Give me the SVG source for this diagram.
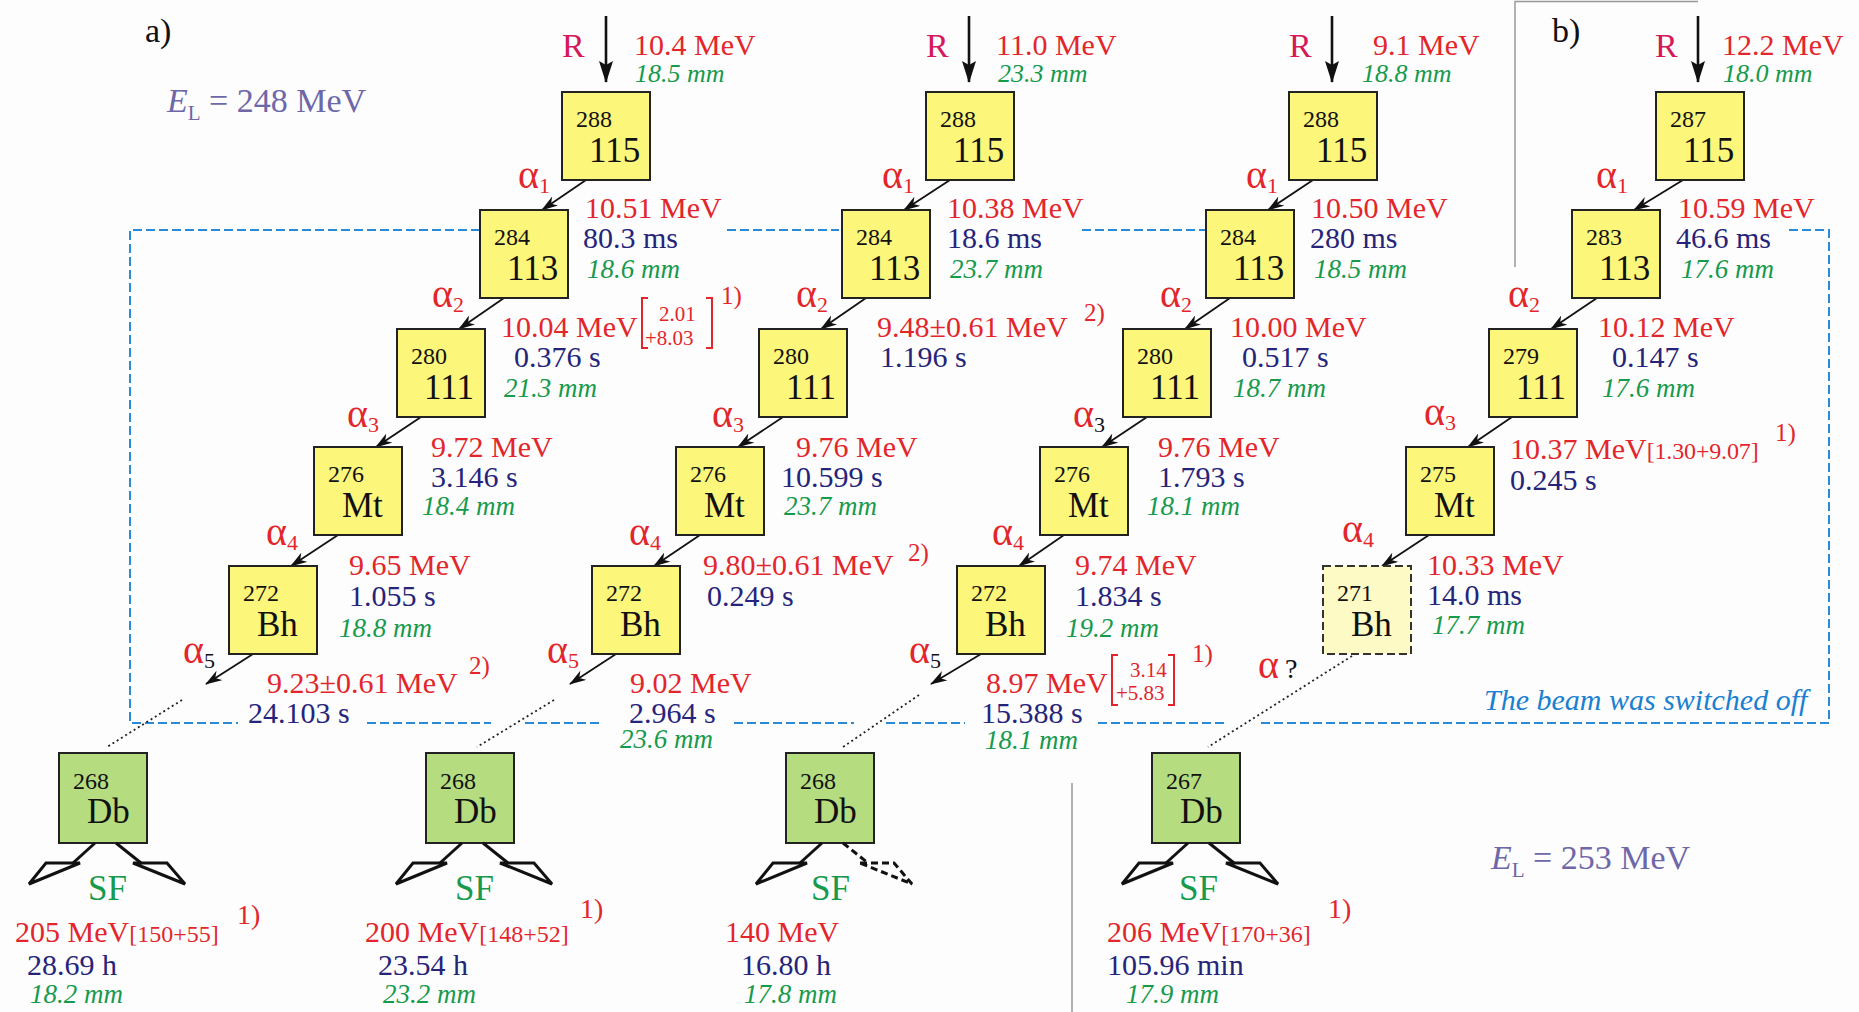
<svg xmlns="http://www.w3.org/2000/svg" width="1859" height="1012" viewBox="0 0 1859 1012">
<defs>
<style>
text{font-family:"Liberation Serif","Times New Roman",serif}
.box{fill:#fcf67a;stroke:#222;stroke-width:2}
.boxd{fill:#fdfac6;stroke:#333;stroke-width:2;stroke-dasharray:8,4}
.boxg{fill:#b6dc80;stroke:#222;stroke-width:2}
.iso{font-size:24px;fill:#111}
.sym{font-size:35px;fill:#111}
.red{font-size:30px;fill:#e3262b}
.navy{font-size:30px;fill:#26247a}
.mm{font-size:27px;fill:#169a4c;font-style:italic}
.mmt{font-size:26px;fill:#169a4c;font-style:italic}
.al{font-size:40px;fill:#e3262b}
.sub{font-size:22px}
.R{font-size:34px;fill:#d4185a}
.sf{font-size:35px;fill:#169a4c}
.sup{font-size:25px;fill:#e3262b}
.supb{font-size:28px;fill:#e3262b}
.brs{font-size:24px}
.brn{font-size:21px;fill:#e3262b}
.lab{font-size:34px;fill:#111}
.el{font-size:34px;fill:#6e67a8}
.beam{font-size:30px;fill:#1a80d0;font-style:italic}
.arr{stroke:#111;stroke-width:1.8;fill:none;marker-end:url(#ah)}
.rarr{stroke:#111;stroke-width:2.6;fill:none;marker-end:url(#rh)}
.dot{stroke:#222;stroke-width:1.8;stroke-dasharray:2,3;fill:none}
.blue{stroke:#2b8ad6;stroke-width:2;stroke-dasharray:9,4;fill:none}
.gray{stroke:#999;stroke-width:1.5;fill:none}
.frag{stroke:#111;stroke-width:3;fill:none;stroke-linejoin:miter}
.fragd{stroke:#111;stroke-width:3;fill:none;stroke-dasharray:7,4}
.brk{stroke:#e3262b;stroke-width:2;fill:none}
</style>
<marker id="ah" markerUnits="userSpaceOnUse" markerWidth="17" markerHeight="11" viewBox="0 0 17 11" refX="16" refY="5.5" orient="auto"><path d="M0,0 L17,5.5 L0,11 L5,5.5 z" fill="#111"/></marker>
<marker id="rh" markerUnits="userSpaceOnUse" markerWidth="22" markerHeight="14" viewBox="0 0 22 14" refX="21" refY="7" orient="auto"><path d="M0,0 L22,7 L0,14 L4,7 z" fill="#111"/></marker>
<g id="sfl"><path class="frag" d="M36,0 L14,20"/><path class="frag" d="M-13,20 L21,20 L-30,41 Z"/></g>
<g id="sfr"><path class="frag" d="M57,0 L82,20"/><path class="frag" d="M74,20 L108,20 L126,41 Z"/></g>
<g id="sfrd"><path class="fragd" d="M57,0 L82,20"/><path class="fragd" d="M74,20 L108,20 L126,41 Z"/></g>
</defs>
<rect width="1859" height="1012" fill="#fdfdfd"/>

<g id="connectors">
<path class="gray" d="M1515,267 V1.5 H1698"/>
<path class="gray" d="M1072,783 V1012"/>
<path class="blue" d="M480,230 H130 V723 H238"/>
<path class="blue" d="M727,230 H839"/>
<path class="blue" d="M1082,230 H1205"/>
<path class="blue" d="M1789,230 H1829 V723 H1260"/>
<path class="blue" d="M367,723 H491 M525,723 H603 M734,723 H854 M886,723 H965 M1098,723 H1225"/>
<line class="rarr" x1="606" y1="16" x2="606" y2="82"/>
<line class="rarr" x1="969" y1="16" x2="969" y2="82"/>
<line class="rarr" x1="1332" y1="16" x2="1332" y2="82"/>
<line class="rarr" x1="1698" y1="16" x2="1698" y2="82"/>
<line class="arr" x1="586" y1="180" x2="542" y2="210"/>
<line class="arr" x1="504" y1="298" x2="459" y2="329"/>
<line class="arr" x1="421" y1="417" x2="376" y2="447"/>
<line class="arr" x1="338" y1="535" x2="291" y2="566"/>
<line class="arr" x1="253" y1="654" x2="206" y2="684"/>
<line class="arr" x1="950" y1="180" x2="904" y2="210"/>
<line class="arr" x1="866" y1="298" x2="821" y2="329"/>
<line class="arr" x1="783" y1="417" x2="738" y2="447"/>
<line class="arr" x1="700" y1="535" x2="654" y2="566"/>
<line class="arr" x1="616" y1="654" x2="570" y2="684"/>
<line class="arr" x1="1313" y1="180" x2="1268" y2="210"/>
<line class="arr" x1="1230" y1="298" x2="1185" y2="329"/>
<line class="arr" x1="1147" y1="417" x2="1102" y2="447"/>
<line class="arr" x1="1064" y1="535" x2="1019" y2="566"/>
<line class="arr" x1="981" y1="654" x2="931" y2="684"/>
<line class="arr" x1="1683" y1="180" x2="1634" y2="210"/>
<line class="arr" x1="1597" y1="298" x2="1551" y2="329"/>
<line class="arr" x1="1512" y1="417" x2="1468" y2="447"/>
<line class="arr" x1="1429" y1="535" x2="1382" y2="566"/>
<line class="dot" x1="182" y1="700" x2="107" y2="747"/>
<line class="dot" x1="554" y1="700" x2="477" y2="747"/>
<line class="dot" x1="919" y1="695" x2="843" y2="747"/>
<line class="dot" x1="1352" y1="656" x2="1208" y2="747"/>
</g>

<g id="labels">
<text class="lab" x="145" y="42">a)</text>
<text class="lab" x="1552" y="42">b)</text>
<text class="el" x="167" y="112"><tspan font-style="italic">E</tspan><tspan font-size="21" dy="8">L</tspan><tspan dy="-8"> = 248 MeV</tspan></text>
<text class="el" x="1491" y="869"><tspan font-style="italic">E</tspan><tspan font-size="21" dy="8">L</tspan><tspan dy="-8"> = 253 MeV</tspan></text>
<text class="beam" x="1484" y="710">The beam was switched off</text>
</g>

<!-- Chain a1 -->
<g id="n1_288_115">
<text class="R" x="562" y="57">R</text>
<text class="red" x="634" y="55">10.4 MeV</text>
<text class="mmt" x="635" y="82">18.5 mm</text>
<rect class="box" x="562" y="92" width="88" height="88"/>
<text class="iso" x="576" y="127">288</text><text class="sym" x="589" y="162">115</text>
</g>
<g id="n1_284_113">
<text class="al" x="518" y="188">α<tspan class="sub" dy="5">1</tspan></text>
<text class="red" x="585" y="218">10.51 MeV</text>
<text class="navy" x="583" y="248">80.3 ms</text>
<text class="mm" x="587" y="278">18.6 mm</text>
<rect class="box" x="480" y="210" width="88" height="88"/>
<text class="iso" x="494" y="245">284</text><text class="sym" x="507" y="280">113</text>
</g>
<g id="n1_280_111">
<text class="al" x="432" y="307">α<tspan class="sub" dy="5">2</tspan></text>
<text class="red" x="501" y="337">10.04 MeV</text>
<path class="brk" d="M648,298 H642 V348 H648 M706,298 H712 V348 H706"/>
<text class="brn" x="659" y="321">2.01</text><text class="brn" x="645" y="345">+8.03</text>
<text class="sup" x="721" y="304">1)</text>
<text class="navy" x="514" y="367">0.376 s</text>
<text class="mm" x="504" y="397">21.3 mm</text>
<rect class="box" x="397" y="329" width="88" height="88"/>
<text class="iso" x="411" y="364">280</text><text class="sym" x="424" y="399">111</text>
</g>
<g id="n1_276_Mt">
<text class="al" x="347" y="427">α<tspan class="sub" dy="5">3</tspan></text>
<text class="red" x="431" y="457">9.72 MeV</text>
<text class="navy" x="431" y="487">3.146 s</text>
<text class="mm" x="422" y="515">18.4 mm</text>
<rect class="box" x="314" y="447" width="88" height="88"/>
<text class="iso" x="328" y="482">276</text><text class="sym" x="342" y="517">Mt</text>
</g>
<g id="n1_272_Bh">
<text class="al" x="266" y="545">α<tspan class="sub" dy="5">4</tspan></text>
<text class="red" x="349" y="575">9.65 MeV</text>
<text class="navy" x="349" y="606">1.055 s</text>
<text class="mm" x="339" y="637">18.8 mm</text>
<rect class="box" x="229" y="566" width="88" height="88"/>
<text class="iso" x="243" y="601">272</text><text class="sym" x="257" y="636">Bh</text>
<text class="al" x="183" y="663">α<tspan class="sub" dy="5" fill="#111">5</tspan></text>
<text class="red" x="267" y="693">9.23±0.61 MeV</text>
<text class="sup" x="469" y="674">2)</text>
<text class="navy" x="248" y="723">24.103 s</text>
</g>
<g id="n1_268_Db">
<rect class="boxg" x="59" y="753" width="88" height="90"/>
<text class="iso" x="73" y="789">268</text><text class="sym" x="87" y="823">Db</text>
<use href="#sfl" x="59" y="843"/><use href="#sfr" x="59" y="843"/>
<text class="sf" x="88" y="900">SF</text>
<text class="red" x="15" y="942">205 MeV<tspan class="brs">[150+55]</tspan></text>
<text class="supb" x="237" y="924">1)</text>
<text class="navy" x="27" y="975">28.69 h</text>
<text class="mm" x="30" y="1003">18.2 mm</text>
</g>

<!-- Chain a2 -->
<g id="n2_288_115">
<text class="R" x="926" y="57">R</text>
<text class="red" x="996" y="55">11.0 MeV</text>
<text class="mmt" x="998" y="82">23.3 mm</text>
<rect class="box" x="926" y="92" width="88" height="88"/>
<text class="iso" x="940" y="127">288</text><text class="sym" x="953" y="162">115</text>
</g>
<g id="n2_284_113">
<text class="al" x="882" y="188">α<tspan class="sub" dy="5">1</tspan></text>
<text class="red" x="947" y="218">10.38 MeV</text>
<text class="navy" x="947" y="248">18.6 ms</text>
<text class="mm" x="950" y="278">23.7 mm</text>
<rect class="box" x="842" y="210" width="88" height="88"/>
<text class="iso" x="856" y="245">284</text><text class="sym" x="869" y="280">113</text>
</g>
<g id="n2_280_111">
<text class="al" x="796" y="307">α<tspan class="sub" dy="5">2</tspan></text>
<text class="red" x="877" y="337">9.48±0.61 MeV</text>
<text class="sup" x="1084" y="321">2)</text>
<text class="navy" x="880" y="367">1.196 s</text>
<rect class="box" x="759" y="329" width="88" height="88"/>
<text class="iso" x="773" y="364">280</text><text class="sym" x="786" y="399">111</text>
</g>
<g id="n2_276_Mt">
<text class="al" x="712" y="427">α<tspan class="sub" dy="5">3</tspan></text>
<text class="red" x="796" y="457">9.76 MeV</text>
<text class="navy" x="781" y="487">10.599 s</text>
<text class="mm" x="784" y="515">23.7 mm</text>
<rect class="box" x="676" y="447" width="88" height="88"/>
<text class="iso" x="690" y="482">276</text><text class="sym" x="704" y="517">Mt</text>
</g>
<g id="n2_272_Bh">
<text class="al" x="629" y="545">α<tspan class="sub" dy="5">4</tspan></text>
<text class="red" x="703" y="575">9.80±0.61 MeV</text>
<text class="sup" x="908" y="561">2)</text>
<text class="navy" x="707" y="606">0.249 s</text>
<rect class="box" x="592" y="566" width="88" height="88"/>
<text class="iso" x="606" y="601">272</text><text class="sym" x="620" y="636">Bh</text>
<text class="al" x="547" y="663">α<tspan class="sub" dy="5">5</tspan></text>
<text class="red" x="630" y="693">9.02 MeV</text>
<text class="navy" x="629" y="723">2.964 s</text>
<text class="mm" x="620" y="748">23.6 mm</text>
</g>
<g id="n2_268_Db">
<rect class="boxg" x="426" y="753" width="88" height="90"/>
<text class="iso" x="440" y="789">268</text><text class="sym" x="454" y="823">Db</text>
<use href="#sfl" x="426" y="843"/><use href="#sfr" x="426" y="843"/>
<text class="sf" x="455" y="900">SF</text>
<text class="red" x="365" y="942">200 MeV<tspan class="brs">[148+52]</tspan></text>
<text class="supb" x="580" y="918">1)</text>
<text class="navy" x="378" y="975">23.54 h</text>
<text class="mm" x="383" y="1003">23.2 mm</text>
</g>

<!-- Chain a3 -->
<g id="n3_288_115">
<text class="R" x="1289" y="57">R</text>
<text class="red" x="1373" y="55">9.1 MeV</text>
<text class="mmt" x="1362" y="82">18.8 mm</text>
<rect class="box" x="1289" y="92" width="88" height="88"/>
<text class="iso" x="1303" y="127">288</text><text class="sym" x="1316" y="162">115</text>
</g>
<g id="n3_284_113">
<text class="al" x="1246" y="188">α<tspan class="sub" dy="5">1</tspan></text>
<text class="red" x="1311" y="218">10.50 MeV</text>
<text class="navy" x="1310" y="248">280 ms</text>
<text class="mm" x="1314" y="278">18.5 mm</text>
<rect class="box" x="1206" y="210" width="88" height="88"/>
<text class="iso" x="1220" y="245">284</text><text class="sym" x="1233" y="280">113</text>
</g>
<g id="n3_280_111">
<text class="al" x="1160" y="307">α<tspan class="sub" dy="5">2</tspan></text>
<text class="red" x="1230" y="337">10.00 MeV</text>
<text class="navy" x="1242" y="367">0.517 s</text>
<text class="mm" x="1233" y="397">18.7 mm</text>
<rect class="box" x="1123" y="329" width="88" height="88"/>
<text class="iso" x="1137" y="364">280</text><text class="sym" x="1150" y="399">111</text>
</g>
<g id="n3_276_Mt">
<text class="al" x="1073" y="427">α<tspan class="sub" dy="5" fill="#111">3</tspan></text>
<text class="red" x="1158" y="457">9.76 MeV</text>
<text class="navy" x="1158" y="487">1.793 s</text>
<text class="mm" x="1147" y="515">18.1 mm</text>
<rect class="box" x="1040" y="447" width="88" height="88"/>
<text class="iso" x="1054" y="482">276</text><text class="sym" x="1068" y="517">Mt</text>
</g>
<g id="n3_272_Bh">
<text class="al" x="992" y="545">α<tspan class="sub" dy="5">4</tspan></text>
<text class="red" x="1075" y="575">9.74 MeV</text>
<text class="navy" x="1075" y="606">1.834 s</text>
<text class="mm" x="1066" y="637">19.2 mm</text>
<rect class="box" x="957" y="566" width="88" height="88"/>
<text class="iso" x="971" y="601">272</text><text class="sym" x="985" y="636">Bh</text>
<text class="al" x="909" y="663">α<tspan class="sub" dy="5" fill="#111">5</tspan></text>
<text class="red" x="986" y="693">8.97 MeV</text>
<path class="brk" d="M1118,655 H1112 V705 H1118 M1168,655 H1174 V705 H1168"/>
<text class="brn" x="1130" y="677">3.14</text><text class="brn" x="1116" y="700">+5.83</text>
<text class="sup" x="1192" y="662">1)</text>
<text class="navy" x="981" y="723">15.388 s</text>
<text class="mm" x="985" y="749">18.1 mm</text>
</g>
<g id="n3_268_Db">
<rect class="boxg" x="786" y="753" width="88" height="90"/>
<text class="iso" x="800" y="789">268</text><text class="sym" x="814" y="823">Db</text>
<use href="#sfl" x="786" y="843"/><use href="#sfrd" x="786" y="843"/>
<text class="sf" x="811" y="900">SF</text>
<text class="red" x="725" y="942">140 MeV</text>
<text class="navy" x="741" y="975">16.80 h</text>
<text class="mm" x="744" y="1003">17.8 mm</text>
</g>

<!-- Chain b -->
<g id="n4_287_115">
<text class="R" x="1655" y="57">R</text>
<text class="red" x="1722" y="55">12.2 MeV</text>
<text class="mmt" x="1723" y="82">18.0 mm</text>
<rect class="box" x="1656" y="92" width="88" height="88"/>
<text class="iso" x="1670" y="127">287</text><text class="sym" x="1683" y="162">115</text>
</g>
<g id="n4_283_113">
<text class="al" x="1596" y="188">α<tspan class="sub" dy="5">1</tspan></text>
<text class="red" x="1678" y="218">10.59 MeV</text>
<text class="navy" x="1676" y="248">46.6 ms</text>
<text class="mm" x="1681" y="278">17.6 mm</text>
<rect class="box" x="1572" y="210" width="88" height="88"/>
<text class="iso" x="1586" y="245">283</text><text class="sym" x="1599" y="280">113</text>
</g>
<g id="n4_279_111">
<text class="al" x="1508" y="307">α<tspan class="sub" dy="5">2</tspan></text>
<text class="red" x="1598" y="337">10.12 MeV</text>
<text class="navy" x="1612" y="367">0.147 s</text>
<text class="mm" x="1602" y="397">17.6 mm</text>
<rect class="box" x="1489" y="329" width="88" height="88"/>
<text class="iso" x="1503" y="364">279</text><text class="sym" x="1516" y="399">111</text>
</g>
<g id="n4_275_Mt">
<text class="al" x="1424" y="425">α<tspan class="sub" dy="5">3</tspan></text>
<text class="red" x="1510" y="459">10.37 MeV<tspan class="brs" textLength="112">[1.30+9.07]</tspan></text>
<text class="sup" x="1775" y="441">1)</text>
<text class="navy" x="1510" y="490">0.245 s</text>
<rect class="box" x="1406" y="447" width="88" height="88"/>
<text class="iso" x="1420" y="482">275</text><text class="sym" x="1434" y="517">Mt</text>
</g>
<g id="n4_271_Bh">
<text class="al" x="1342" y="542">α<tspan class="sub" dy="5">4</tspan></text>
<text class="red" x="1427" y="575">10.33 MeV</text>
<text class="navy" x="1427" y="605">14.0 ms</text>
<text class="mm" x="1432" y="634">17.7 mm</text>
<rect class="boxd" x="1323" y="566" width="88" height="88"/>
<text class="iso" x="1337" y="601">271</text><text class="sym" x="1351" y="636">Bh</text>
<text class="al" x="1258" y="678">α<tspan fill="#111" font-size="28" dx="6">?</tspan></text>
</g>
<g id="n4_267_Db">
<rect class="boxg" x="1152" y="753" width="88" height="90"/>
<text class="iso" x="1166" y="789">267</text><text class="sym" x="1180" y="823">Db</text>
<use href="#sfl" x="1152" y="843"/><use href="#sfr" x="1152" y="843"/>
<text class="sf" x="1179" y="900">SF</text>
<text class="red" x="1107" y="942">206 MeV<tspan class="brs">[170+36]</tspan></text>
<text class="supb" x="1328" y="918">1)</text>
<text class="navy" x="1107" y="975">105.96 min</text>
<text class="mm" x="1126" y="1003">17.9 mm</text>
</g>
</svg>
